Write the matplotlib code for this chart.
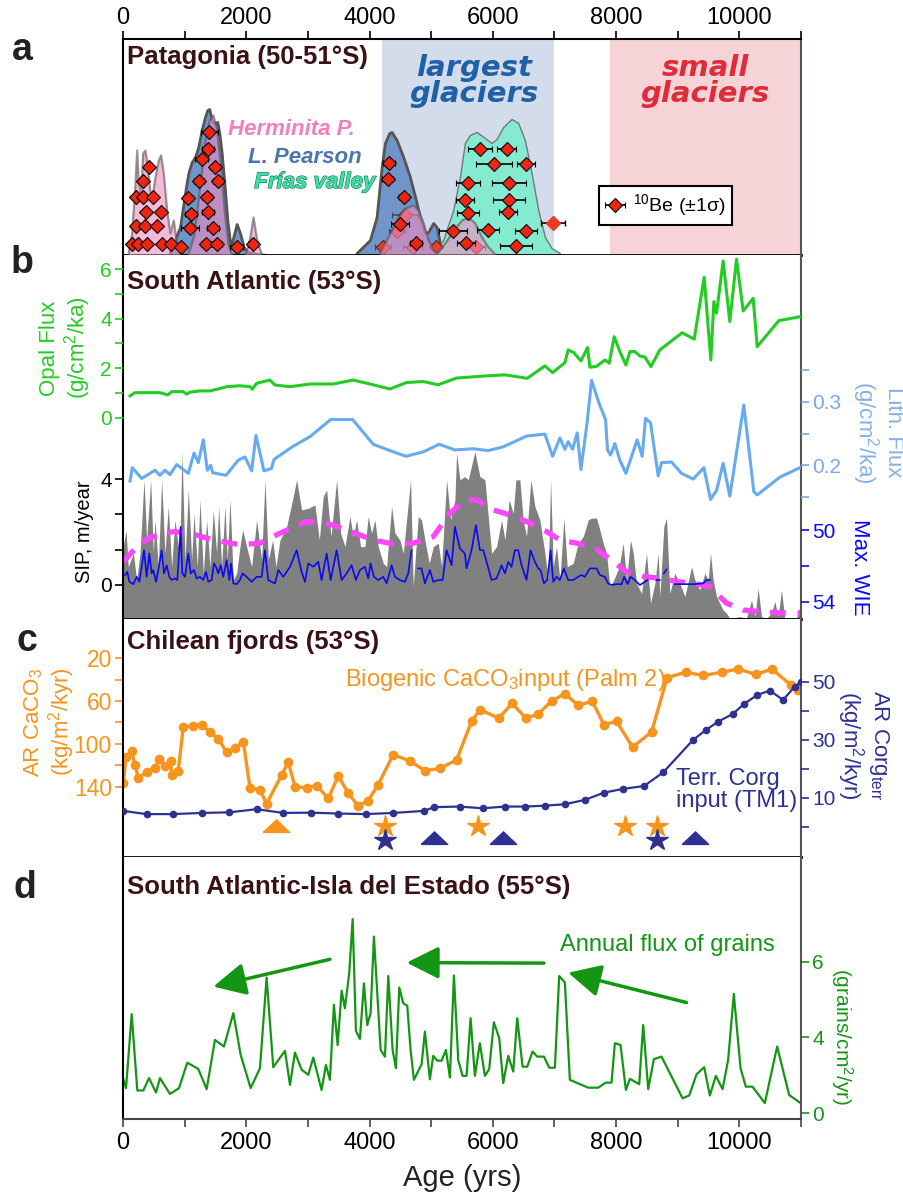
import matplotlib.pyplot as plt
import matplotlib.patheffects as pe
import numpy as np

plt.rcParams['font.family'] = ['Liberation Sans', 'DejaVu Sans']
plt.rcParams['mathtext.default'] = 'regular'

W, H = 904, 1199

# ---------------- panel a: 10Be ages and probability curves ----------------
herm1_age = [86, 141, 195, 222, 249, 287, 320, 357, 395, 427, 465, 519, 573, 611, 654, 708, 762, 816, 870, 925]
herm1_h = [3, 22, 72, 105, 72, 62, 102, 105, 88, 68, 55, 78, 95, 100, 82, 45, 22, 35, 12, 3]
herm2_age = [1050, 1150, 1250, 1320, 1400, 1460, 1520, 1580, 1640, 1700, 1760]
herm2_h = [0, 20, 70, 110, 135, 140, 125, 90, 45, 12, 0]
herm3_age = [1980, 2050, 2110, 2170, 2250]
herm3_h = [0, 15, 38, 15, 0]
herm4_age = [4168, 4331, 4466, 4574, 4709, 4790, 4871, 4952, 5033, 5141]
herm4_h = [3, 22, 38, 47, 50, 45, 32, 15, 5, 1]
herm5_age = [5088, 5223, 5358, 5494, 5601, 5709, 5817, 5925, 6034]
herm5_h = [2, 12, 25, 35, 38, 32, 18, 8, 1]
pear1_age = [762, 843, 925, 1006, 1060, 1114, 1168, 1222, 1276, 1330, 1368, 1400, 1438, 1476, 1530,
             1563, 1601, 1654, 1692, 1747, 1790, 1844, 1898, 1963, 2033, 2100, 2200, 2330]
pear1_h = [3, 15, 28, 62, 82, 93, 98, 108, 125, 138, 145, 146, 135, 132, 133,
           122, 102, 65, 35, 8, 18, 31, 22, 7, 3, 2, 1, 0]
pear2_age = [3790, 4006, 4114, 4196, 4250, 4320, 4358, 4439, 4547, 4655, 4752, 4817, 4898, 4952,
             5033, 5088, 5141, 5223, 5304]
pear2_h = [2, 15, 38, 88, 112, 122, 123, 115, 98, 78, 55, 38, 22, 23, 32, 28, 12, 3, 1]
frias_age = [5033, 5195, 5358, 5466, 5547, 5628, 5737, 5871, 5980, 6061, 6169, 6304, 6412, 6520,
             6629, 6737, 6845, 6953, 7088]
frias_h = [1, 15, 45, 78, 112, 120, 123, 117, 112, 116, 128, 136, 132, 115, 82, 45, 18, 7, 2]

be_age = [427, 320, 211, 320, 491, 368, 611, 211, 357, 556, 141, 248, 384, 628, 779, 936,
          1400, 1384, 1277, 1492, 1238, 1536, 1059, 1367, 1103, 1384, 1087, 1455, 1346, 1520, 1844, 2104,
          4320, 4293, 4558, 4493, 4752,
          5791, 6224, 6023, 6532, 5591, 6266, 5547, 6266, 5591, 6240, 5358, 5925, 6532, 5563, 6374]
be_row = [88, 74, 58, 58, 58, 43, 43, 29, 29, 29, 11, 11, 11, 11, 11, 8,
          123, 106, 96, 88, 74, 74, 57, 58, 41, 43, 27, 27, 11, 11, 8, 11,
          92, 76, 58, 31, 12,
          106, 106, 91, 91, 72, 72, 55, 55, 42, 43, 24, 25, 24, 12, 9]
be_err = [60, 60, 50, 50, 50, 50, 60, 50, 50, 50, 40, 40, 40, 40, 40, 40,
          140, 100, 110, 80, 80, 80, 80, 80, 90, 100, 150, 100, 80, 80, 100, 80,
          95, 95, 80, 145, 95,
          195, 160, 290, 145, 195, 275, 145, 260, 180, 145, 230, 180, 180, 145, 260]
pale_age = [4574, 4439, 4222, 4699, 5077, 5721]
pale_row = [40, 24, 8, 8, 8, 8]
pale_err = [210, 130, 130, 160, 60, 160]
outlier_age, outlier_row, outlier_err = [6980], [32], [195]

# ---------------- panel b: South Atlantic ----------------
opal_age = [114, 195, 438, 600, 725, 790, 978, 1033, 1087, 1249, 1411, 1682, 1898, 2060, 2097, 2168,
            2384, 2465, 2709, 3033, 3411, 3735, 4006, 4330, 4601, 4871, 5114, 5412, 5844, 6196, 6558,
            6845, 6970, 7169, 7223, 7315, 7429, 7537, 7575, 7683, 7818, 7888, 7969, 8061, 8159, 8224,
            8305, 8386, 8467, 8565, 8710, 9072, 9267, 9429, 9537, 9586, 9630, 9737, 9845, 9954, 10062,
            10224, 10289, 10640, 10992]
opal_flux = [0.88, 1.01, 1.01, 1.01, 0.92, 1.05, 1.05, 0.95, 1.03, 1.08, 1.08, 1.25, 1.29, 1.25, 1.15,
             1.39, 1.52, 1.32, 1.25, 1.36, 1.36, 1.52, 1.36, 1.16, 1.42, 1.46, 1.33, 1.6, 1.68, 1.73,
             1.59, 2.09, 1.82, 2.22, 2.74, 2.63, 2.29, 2.83, 2.04, 2.07, 2.33, 2.2, 3.27, 2.67, 2.13,
             2.67, 2.67, 2.49, 2.45, 2.06, 2.74, 3.43, 3.17, 5.67, 2.33, 4.69, 4.22, 6.33, 3.88, 6.4,
             4.31, 4.82, 2.87, 3.92, 4.08]

lith_age = [114, 151, 303, 519, 600, 681, 762, 871, 1060, 1152, 1222, 1303, 1368, 1422, 1455, 1671,
            1871, 1979, 2087, 2157, 2287, 2411, 2449, 2762, 3033, 3369, 3726, 4060, 4331, 4590, 4871,
            5131, 5385, 5682, 5925, 6169, 6548, 6845, 6970, 7088, 7169, 7223, 7294, 7369, 7429, 7531,
            7602, 7726, 7829, 7861, 7910, 7980, 8061, 8159, 8342, 8423, 8478, 8559, 8683, 8737, 8899,
            9062, 9250, 9424, 9532, 9630, 9737, 9845, 10072, 10235, 10289, 10656, 10981]
lith_flux = [0.175, 0.196, 0.179, 0.192, 0.184, 0.192, 0.185, 0.201, 0.187, 0.219, 0.204, 0.240,
             0.192, 0.200, 0.188, 0.184, 0.208, 0.213, 0.191, 0.247, 0.191, 0.195, 0.209, 0.230,
             0.245, 0.272, 0.272, 0.233, 0.223, 0.214, 0.221, 0.233, 0.224, 0.226, 0.223, 0.229,
             0.246, 0.249, 0.214, 0.243, 0.225, 0.237, 0.225, 0.251, 0.193, 0.268, 0.334, 0.297,
             0.272, 0.224, 0.216, 0.234, 0.208, 0.187, 0.240, 0.214, 0.274, 0.267, 0.183, 0.204,
             0.205, 0.187, 0.178, 0.196, 0.146, 0.160, 0.203, 0.151, 0.295, 0.158, 0.153, 0.181, 0.196]

sip_age = [5, 49, 86, 168, 222, 276, 341, 384, 449, 492, 519, 573, 627, 681, 735, 789, 843, 897, 925,
           957, 1006, 1060, 1114, 1152, 1206, 1249, 1303, 1357, 1411, 1465, 1519, 1552, 1600, 1654,
           1692, 1736, 1790, 1844, 1898, 1941, 2006, 2087, 2168, 2249, 2303, 2357, 2428, 2482, 2547,
           2655, 2763, 2817, 2898, 3006, 3114, 3185, 3249, 3304, 3374, 3466, 3531, 3601, 3682, 3736,
           3790, 3855, 3925, 3979, 4033, 4087, 4141, 4223, 4277, 4358, 4412, 4493, 4547, 4666, 4709,
           4790, 4844, 4898, 4969, 5034, 5115, 5169, 5250, 5315, 5385, 5412, 5466, 5547,
           5601, 5709, 5791, 5872, 5980, 6061, 6142, 6196, 6266, 6331, 6374, 6439, 6493, 6547,
           6618, 6683, 6764, 6845, 6899, 6937, 6980, 7034, 7088, 7153, 7207, 7304, 7385, 7467, 7548,
           7602, 7683, 7737, 7791, 7845, 7899, 7964, 8050, 8115, 8170, 8234, 8278, 8332, 8413, 8494,
           8559, 8629, 8683, 8710, 8775, 8818, 8872, 8953, 9034, 9116, 9224, 9278, 9359, 9440, 9494,
           9532, 9575, 9629, 9737, 9791, 9845, 10008, 10116, 10197, 10251, 10305, 10359, 10440,
           10521, 10575, 10629, 10683, 10737, 10927, 10981, 11000]
sip = [1.45, 2.08, 0.69, 1.20, 0.19, 1.20, 3.98, 1.70, 3.98, 1.20, 2.46, 0.69, 3.98, 1.20, 2.97, 0.69,
       2.46, 1.45, 1.70, 5.05, 0.95, 3.60, 0.95, 2.71, 0.69, 3.22, 0.44, 2.46, 0.69, 2.84, 1.20, 2.97,
       0.69, 2.97, 0.95, 3.22, 0.19, 0.44, 1.45, 2.08, 1.45, 0.69, 2.46, 0.95, 3.98, 0.95, 1.70, 0.69,
       1.70, 2.21, 3.35, 3.98, 2.84, 2.90, 3.03, 1.70, 3.35, 3.60, 1.83, 3.98, 1.96, 1.45, 2.59, 1.83,
       2.46, 1.45, 1.45, 2.59, 1.96, 2.46, 1.45, 0.82, 0.69, 2.97, 1.96, 1.70, 1.20, 3.98, -0.06, 2.59,
       2.46, 1.70, 0.82, 1.45, 1.58, 0.69, 3.98, 2.46, 3.22, 4.99, 3.98, 4.10,
       3.98, 5.05, 4.10, 3.98, 1.20, 1.45, 2.46, 1.70, 3.22, 2.71, 3.98, 3.98, 2.46, 1.83,
       3.98, 2.97, 2.46, 1.20, 0.19, 3.98, 0.69, 1.45, 0.19, 2.53, 0.69, 0.82, 1.58, 1.83, 2.46,
       2.53, 2.53, 2.08, 1.58, 1.20, -0.06, 0.19, 0.69, 1.58, 0.19, 1.70, 1.20, 0.06, -0.32, 1.20,
       -0.69, 0.06, 1.20, -0.44, 2.21, 2.53, -0.32, 0.44, 0.06, -0.44, 0.69, 0.19, -0.19, 0.44, 0.19,
       1.20, 0.19, -0.44, -0.95, -1.07, -1.26, -1.20, -1.26, -0.57, -1.20, -0.13, -1.20, -1.26,
       -1.07, -0.63, -1.20, -0.19, -1.26, -1.26, -0.82, -0.82]

sip_smooth_age = [5, 276, 492, 816, 1087, 1465, 1898, 2222, 2547, 2979, 3304, 3628, 4060, 4385, 4709,
                  5034, 5304, 5547, 5736, 6007, 6277, 6547, 6872, 7088, 7358, 7629, 7845, 8170, 8440,
                  8710, 8980, 9251, 9521, 9791, 10062, 10332, 10602, 11000]
sip_smooth = [0.88, 1.58, 1.83, 2.02, 1.96, 1.70, 1.52, 1.58, 1.96, 2.40, 2.34, 2.08, 1.70, 1.55, 1.58,
              1.83, 2.71, 3.22, 3.22, 2.84, 2.65, 2.40, 2.02, 1.70, 1.58, 1.45, 1.07, 0.50, 0.32,
              0.25, 0.13, 0.06, -0.06, -0.69, -0.95, -1.01, -1.05, -1.07]

nan = np.nan
wie_age = [32, 70, 103, 168, 222, 265, 303, 341, 384, 427, 465, 492, 535, 573, 627, 665, 708, 752, 789,
           843, 881, 914, 935, 962, 1006, 1060, 1098, 1152, 1195, 1249, 1303, 1346, 1384, 1438, 1476,
           1508, 1546, 1584, 1627, 1682, 1725, 1752, 1790, 1844, 1898, 1941, 2006, 2087, 2168, 2249,
           2303, 2357, 2411, 2465, 2520, 2601, 2709, 2817, 2898, 2952, 3006, 3087, 3168, 3222, 3304,
           3369, 3466, 3547, 3628, 3709, 3779, 3844, 3925, 3979, 4017, 4071, 4141, 4223, 4277, 4358,
           4412, 4493, 4574, 4628, 4682, 4736,
           4790, 4844, 4898, 4979, 5034, 5115, 5185, 5250, 5331, 5385, 5466, 5547, 5574, 5655, 5726,
           5791, 5845, 5899, 5980, 6061, 6142, 6196, 6250, 6304, 6358, 6412, 6466, 6547, 6612, 6683,
           6737, 6775, 6829, 6883, 6937, 6980, 7034, 7088, 7153, 7223, 7304, 7385, 7440, 7494, 7575,
           7683, 7737, 7818, 7872, 7926, 8007, 8088, 8132, 8186, 8234, 8305, 8386, 8467, 8510, 8580,
           8656, 8710, 8740, 8775, 8818, 8880, 8953, 9251, 9413, 9467, 9521]
wie = [52.51, 52.33, 52.89, 53.02, 52.61, 52.89, 52.05, 51.12, 52.61, 51.30, 52.42, 52.23, 52.89, 52.23,
       51.12, 52.42, 51.96, 52.61, 52.79, 52.70, 52.79, 51.12, 49.81, 52.42, 52.61, 51.30, 52.42, 52.23,
       52.70, 52.61, 52.79, 52.33, 52.89, 52.79, 51.86, 52.05, 52.42, 51.96, 52.61, 51.68, 52.79, 51.86,
       52.98, 53.02, 52.79, 52.42, 52.61, 52.89, 52.61, 52.61, 51.12, 52.79, 52.89, 52.98, 52.23, 52.61,
       52.05, 51.12, 52.33, 52.89, 51.86, 52.05, 51.77, 52.79, 51.30, 52.79, 51.12, 52.79, 52.42, 51.96,
       52.79, 52.23, 52.05, 52.70, 51.86, 52.61, 52.79, 52.61, 52.98, 51.96, 52.61, 52.79, 52.89, 52.42,
       51.12, nan,
       52.14, 52.14, 52.98, 52.23, 52.89, 52.79, 52.79, 51.12, 51.96, 49.81, 51.02, 51.30, 52.14, 51.12,
       49.72, 51.12, 51.12, 51.77, 52.79, 52.70, 51.96, 52.42, 51.77, 52.05, 51.12, 51.12, 51.96, 52.79,
       51.12, 51.77, 52.14, 52.23, 52.98, 52.79, 51.12, 52.89, 52.61, 52.79, 52.14, 52.79, 52.79, 52.61,
       52.51, 52.61, 52.14, 52.14, 52.51, 52.61, 52.98, 53.07, 53.02, 53.02, 52.61, 53.02, 52.61, 52.79,
       53.07, 52.89, 52.79, nan,
       52.79, 52.79, nan, 52.42, 52.20, nan, 53.02, 53.02, 52.98, 52.79, 52.79]

# ---------------- panel c: Chilean fjords ----------------
caco3_age = [5, 49, 141, 195, 248, 384, 519, 589, 681, 773, 790, 897, 978, 1141, 1276, 1411, 1546, 1682,
             1817, 1952, 2060, 2222, 2330, 2574, 2681, 2790, 2979, 3141, 3330, 3492, 3654, 3816, 3979,
             4141, 4384, 4655, 4898, 5141, 5412, 5655, 5790, 6098, 6314, 6536, 6736, 6953, 7169, 7385,
             7612, 7802, 8008, 8267, 8575, 8828, 9127, 9413, 9711, 9980, 10267, 10532, 10835, 10953]
caco3 = [137, 112, 107, 120, 132, 126, 123, 114, 121, 116, 129, 125, 84, 83, 82, 89, 95, 108, 104, 98,
         141, 143, 156, 129, 117, 140, 141, 139, 151, 130, 146, 158, 153, 138, 110, 116, 125, 123, 115,
         79, 68, 76, 62, 76, 72, 60, 53, 64, 60, 82, 79, 103, 89, 38, 33, 36, 33, 30, 35, 30, 45, 50]
corg_age = [0, 384, 816, 1276, 1725, 2168, 2600, 3044, 3492, 3936, 4384, 4882, 5049, 5466, 5834, 6196,
            6520, 6845, 7169, 7494, 7802, 8116, 8456, 8764, 9250, 9456, 9656, 9889, 10078, 10289, 10494,
            10710, 10900, 11000]
corg = [5.4, 4.3, 4.3, 4.7, 4.9, 6.0, 4.7, 4.8, 4.5, 4.3, 4.7, 5.4, 6.7, 6.9, 6.3, 6.9, 6.9, 7.2, 7.7,
        9.2, 11.7, 13.0, 14.0, 18.7, 29.9, 33.3, 36.2, 38.8, 42.3, 45.4, 46.9, 43.7, 48.3, 50.0]
caco3_star_age = [4250, 5763, 8142, 8667]
caco3_tri_age = [2477]
corg_star_age = [4250, 8667]
corg_tri_age = [5044, 6158, 9278]

# ---------------- panel d: Isla del Estado ----------------
grain_age = [0, 49, 141, 232, 330, 422, 535, 600, 762, 908, 1043, 1222, 1357, 1492, 1638, 1790, 1909,
             2071, 2222, 2330, 2438, 2628, 2709, 2790, 2898, 3006, 3087, 3222, 3292, 3357, 3422, 3482,
             3547, 3600, 3670, 3726, 3779, 3844, 3909, 3963, 4017, 4071, 4180, 4250, 4304, 4374, 4428,
             4482, 4547, 4612, 4666, 4720, 4845, 4898, 4979, 5033, 5098, 5169, 5239, 5304, 5369, 5439,
             5509, 5574, 5639, 5709, 5790, 5871, 5941, 6017, 6104, 6169, 6250, 6331, 6396, 6483, 6558,
             6645, 6720, 6829, 6915, 7007, 7077, 7169, 7250, 7548, 7710, 7834, 7926, 7980, 8072, 8159,
             8224, 8375, 8440, 8521, 8613, 8737, 9078, 9186, 9305, 9429, 9521, 9619, 9727, 9818, 9910,
             10019, 10105, 10213, 10413, 10613, 10808, 10981]
grains = [1.39, 0.99, 3.92, 0.9, 0.9, 1.39, 0.82, 1.39, 0.76, 0.99, 2.0, 1.75, 0.95, 2.9, 2.64, 3.96,
          2.31, 0.99, 1.78, 5.37, 1.82, 2.47, 1.12, 2.4, 1.72, 1.52, 2.2, 0.92, 1.91, 1.32, 4.29, 2.7,
          4.85, 4.15, 5.54, 7.68, 3.26, 2.94, 5.14, 3.49, 3.96, 6.99, 2.5, 2.24, 5.43, 2.5, 1.78, 4.97,
          4.35, 4.25, 2.5, 1.32, 1.94, 3.23, 1.34, 2.27, 2.08, 2.08, 2.5, 1.41, 5.45, 2.1, 1.48, 1.48,
          3.76, 1.48, 2.77, 1.48, 1.74, 3.6, 2.97, 1.19, 2.27, 1.65, 3.76, 1.84, 1.84, 2.44, 2.24, 2.24,
          1.8, 1.8, 5.43, 5.17, 1.32, 1.01, 1.01, 1.21, 1.21, 2.77, 2.7, 0.92, 1.36, 1.15, 3.49, 0.95,
          2.14, 2.24, 0.59, 0.7, 1.54, 1.82, 0.7, 1.48, 0.95, 2.11, 4.72, 1.78, 1.05, 1.05, 0.4, 2.64,
          0.72, 0.42]

x_major = list(range(0, 11001, 2000))
x_minor = list(range(1000, 11001, 2000))

fig = plt.figure(figsize=(W / 100, H / 100), dpi=100)


def px_box(top, bottom, left=123, right=801):
    return [left / W, 1 - bottom / H, (right - left) / W, (bottom - top) / H]


def ftext(x, y, s, **kw):
    return fig.text(x / W, 1 - y / H, s, **kw)


def yticks(ax, major, minor, color, labels=None, size=15, side='left'):
    ax.set_yticks(major)
    if labels is not None:
        ax.set_yticklabels(labels)
    ax.set_yticks(minor, minor=True)
    ax.tick_params(axis='y', which='both', direction='out', length=6, width=1.2,
                   color=color, labelcolor=color, labelsize=size, pad=2,
                   left=(side == 'left'), labelleft=(side == 'left'),
                   right=(side == 'right'), labelright=(side == 'right'))


title_kw = dict(fontsize=18.5, fontweight='bold', color='#3a1115', va='center', ha='left')
letter_kw = dict(fontsize=27, fontweight='bold', color='#222222', va='center', ha='center')
edge = '#555555'
spine_grey = '#555555'

# ======== panel a ========
ax_a = fig.add_axes(px_box(39, 255))
ax_a.set_xlim(0, 11000)
ax_a.set_ylim(0, 216)
ax_a.axvspan(4200, 7000, color='#d3dcea', lw=0, zorder=0)
ax_a.axvspan(7900, 11000, color='#f6d3d6', lw=0, zorder=0)
ax_a.fill_between(pear1_age, pear1_h, color='#6f95c9', ec=edge, lw=2, zorder=1)
ax_a.fill_between(pear2_age, pear2_h, color='#6f95c9', ec=edge, lw=2, zorder=1)
ax_a.fill_between(frias_age, frias_h, color='#84ebd0', ec='#777777', lw=1, zorder=1.5)
ax_a.errorbar(pale_age, pale_row, xerr=pale_err, fmt='D', ms=7, mfc='#e8402a', mec='#6a1a10',
              mew=0.8, ecolor='#444444', elinewidth=1.1, capsize=2.5, zorder=2)
for a, h in [(herm1_age, herm1_h), (herm2_age, herm2_h), (herm3_age, herm3_h),
             (herm4_age, herm4_h), (herm5_age, herm5_h)]:
    ax_a.fill_between(a, h, color='#f08cc0', alpha=0.6, ec=edge, lw=1.6, zorder=3)
be = ax_a.errorbar(be_age, be_row, xerr=be_err, fmt='D', ms=7, mfc='#ee2512', mec='black',
                   mew=0.8, ecolor='black', elinewidth=1.2, capsize=2.5, zorder=4,
                   label='$^{10}$Be (±1σ)')
ax_a.errorbar(outlier_age, outlier_row, xerr=outlier_err, fmt='D', ms=7, mfc='#f03a20', mec='#f03a20',
              ecolor='black', elinewidth=1.2, capsize=2.5, zorder=4)
leg = ax_a.legend(handles=[be], loc='lower left', bbox_to_anchor=(0.687, 0.093), fancybox=False,
                  edgecolor='black', fontsize=14, handlelength=1.0, borderpad=0.35,
                  handletextpad=0.4, framealpha=1)
leg.get_frame().set_linewidth(1.5)
ax_a.xaxis.tick_top()
ax_a.set_xticks(x_major)
ax_a.set_xticks(x_minor, minor=True)
ax_a.tick_params(axis='x', which='both', direction='out', length=6, width=1.2, labelsize=17, pad=1)
ax_a.set_yticks([])
for s in ['left', 'top']:
    ax_a.spines[s].set_linewidth(1.5)
ax_a.spines['right'].set_color(spine_grey)
ax_a.spines['right'].set_linewidth(1.5)
ax_a.spines['bottom'].set_linewidth(2)

ax_a.text(5700, 174, 'largest\nglaciers', fontsize=21, style='italic', fontweight='bold',
          color='#1f60a6', ha='center', va='center', linespacing=0.92, family=['DejaVu Sans'])
ax_a.text(9450, 174, 'small\nglaciers', fontsize=21, style='italic', fontweight='bold',
          color='#de2c38', ha='center', va='center', linespacing=0.92, family=['DejaVu Sans'])
narrow = ['Liberation Sans Narrow', 'Liberation Sans', 'DejaVu Sans']
ax_a.text(1700, 120, 'Herminita P.', fontsize=16, style='italic', fontweight='bold',
          color='#f47fb8', family=narrow, va='baseline')
ax_a.text(2030, 92, 'L. Pearson', fontsize=16, style='italic', fontweight='bold',
          color='#4d74b0', family=narrow, va='baseline')
ax_a.text(2130, 67, 'Frías valley', fontsize=16, style='italic', fontweight='bold',
          color='#3fe0a8', family=narrow, va='baseline',
          path_effects=[pe.withStroke(linewidth=0.9, foreground='#1d7a58')])

ftext(127, 57, 'Patagonia (50-51°S)', **title_kw)
ftext(22, 50, 'a', **letter_kw)

# ======== panel b ========
ax_b = fig.add_axes(px_box(255, 619))
ax_b.set_xlim(0, 11000)
ax_b.set_ylim(-1.29, 12.49)
ax_b.fill_between(sip_age, sip, -1.29, color='#808080', lw=0)
ax_b.plot(sip_smooth_age, sip_smooth, color='#ff44ff', lw=3.8, dashes=(3, 2.2))
ax_b.set_xticks([])
yticks(ax_b, [0, 4], [4 / 3, 8 / 3], 'black')
ax_b.spines['top'].set_visible(False)
ax_b.spines['left'].set_linewidth(1.5)
ax_b.spines['right'].set_color(spine_grey)
ax_b.spines['right'].set_linewidth(1.5)
ax_b.spines['bottom'].set_linewidth(2)

ax_opal = ax_b.twinx()
ax_opal.set_ylim(-8.13, 6.57)
ax_opal.plot(opal_age, opal_flux, color='#22cc22', lw=2.2)
yticks(ax_opal, [0, 2, 4, 6], [1, 3, 5], '#22cc22')

ax_lith = ax_b.twinx()
ax_lith.set_ylim(-0.043, 0.532)
ax_lith.plot(lith_age, lith_flux, color='#66aaf0', lw=2.2)
yticks(ax_lith, [0.2, 0.3], [0.15, 0.25, 0.35], '#7aa8e0', side='right')

ax_wie = ax_b.twinx()
ax_wie.set_ylim(54.97, 34.6)
ax_wie.plot(wie_age, wie, color='#0a0aee', lw=1.2)
yticks(ax_wie, [50, 54], [52], '#0a0aee', side='right')

for ax in (ax_opal, ax_lith, ax_wie):
    for s in ax.spines.values():
        s.set_visible(False)

ftext(127, 282, 'South Atlantic (53°S)', **title_kw)
ftext(22, 263, 'b', **letter_kw)
ftext(66, 348, 'Opal Flux\n(g/cm$^2$/ka)', rotation=90, fontsize=16, color='#22cc22',
      ha='center', va='center', multialignment='center', linespacing=1.05)
ftext(84, 532, 'SIP, m/year', rotation=90, fontsize=14.5, color='black', ha='center', va='center')
ftext(877, 432, 'Lith. Flux\n(g/cm$^2$/ka)', rotation=270, fontsize=16, color='#85b2e6',
      ha='center', va='center', multialignment='center', linespacing=1.05)
ftext(860, 567, 'Max. WIE', rotation=270, fontsize=16, color='#0a0aee', ha='center', va='center')

# ======== panel c ========
ax_c = fig.add_axes(px_box(619, 857))
ax_c.set_xlim(0, 11000)
ax_c.set_ylim(205.8, -16.8)
ax_c.plot(caco3_age, caco3, color='#f7941d', lw=2.4, marker='o', ms=7, mew=0)
ax_c.set_xticks([])
yticks(ax_c, [20, 60, 100, 140], [40, 80, 120], '#f7941d', size=16.5)
ax_c.spines['top'].set_visible(False)
ax_c.spines['left'].set_linewidth(1.5)
ax_c.spines['right'].set_color(spine_grey)
ax_c.spines['right'].set_linewidth(1.5)
ax_c.spines['bottom'].set_linewidth(2)

xt = ax_c.get_xaxis_transform()
tri = [(-1, -0.45), (1, -0.45), (0, 0.5), (-1, -0.45)]
ax_c.plot(caco3_tri_age, [0.13] * len(caco3_tri_age), ls='none', marker=tri, ms=19,
          color='#f7941d', transform=xt, clip_on=False)
ax_c.plot(caco3_star_age, [0.132] * len(caco3_star_age), ls='none', marker='*', ms=16,
          color='#f7941d', transform=xt, clip_on=False)
ax_c.plot(corg_tri_age, [0.08] * len(corg_tri_age), ls='none', marker=tri, ms=19,
          color='#2e3192', transform=xt, clip_on=False)
ax_c.plot(corg_star_age, [0.07] * len(corg_star_age), ls='none', marker='*', ms=16,
          color='#2e3192', transform=xt, clip_on=False)

ax_c2 = ax_c.twinx()
ax_c2.set_ylim(-10.5, 71.6)
ax_c2.plot(corg_age, corg, color='#2e3192', lw=1.6, marker='o', ms=5.5, mew=0)
yticks(ax_c2, [10, 30, 50], [0, 20, 40], '#2e3192', side='right')
for s in ax_c2.spines.values():
    s.set_visible(False)

ftext(127, 642, 'Chilean fjords (53°S)', **title_kw)
ftext(27, 641, 'c', **letter_kw)
ftext(345, 680, 'Biogenic CaCO$_3$input (Palm 2)', fontsize=17, color='#f7941d', va='center')
ftext(676, 790, 'Terr. Corg\ninput (TM1)', fontsize=17, color='#2e3192', va='center',
      linespacing=1.0)
ftext(50, 722, 'AR CaCO$_3$\n(kg/m$^2$/kyr)', rotation=90, fontsize=16, color='#f7941d',
      ha='center', va='center', multialignment='center', linespacing=1.05)
ftext(863, 745, 'AR Corg$_{terr}$\n(kg/m$^2$/kyr)', rotation=270, fontsize=16, color='#2e3192',
      ha='center', va='center', multialignment='center', linespacing=1.05)

# ======== panel d ========
ax_d = fig.add_axes(px_box(857, 1119))
ax_d.set_xlim(0, 11000)
ax_d.set_ylim(-0.23, 10.14)
ax_d.plot(grain_age, grains, color='#149614', lw=1.6)
ax_d.set_xticks(x_major)
ax_d.set_xticks(x_minor, minor=True)
ax_d.tick_params(axis='x', which='both', direction='out', length=6, width=1.2, labelsize=17,
                 color='#444444')
yticks(ax_d, [0, 3, 6], [], '#149614', labels=['0', '4', '6'], side='right')
ax_d.spines['top'].set_visible(False)
ax_d.spines['left'].set_linewidth(1.5)
ax_d.spines['bottom'].set_linewidth(1.5)
ax_d.spines['bottom'].set_color('#444444')
ax_d.spines['right'].set_color(spine_grey)
ax_d.spines['right'].set_linewidth(1.5)
ax_d.set_xlabel('Age (yrs)', fontsize=21, labelpad=7, color='#222222')

arrow_kw = dict(arrowstyle='-|>,head_length=0.9,head_width=0.45', color='#149614', lw=2.5,
                mutation_scale=22, shrinkA=0, shrinkB=0)
ax_d.annotate('', xy=(1465, 5.01), xytext=(3358, 6.09), arrowprops=arrow_kw)
ax_d.annotate('', xy=(4601, 5.96), xytext=(6829, 5.94), arrowprops=arrow_kw)
ax_d.annotate('', xy=(7223, 5.56), xytext=(9143, 4.38), arrowprops=arrow_kw)

ftext(127, 887, 'South Atlantic-Isla del Estado (55°S)', **title_kw)
ftext(25, 888, 'd', **letter_kw)
ftext(560, 945, 'Annual flux of grains', fontsize=17, color='#149614', va='center')
ftext(842, 1037, '(grains/cm$^2$/yr)', rotation=270, fontsize=15, color='#149614',
      ha='center', va='center')

fig.savefig('out.png', dpi=100)
